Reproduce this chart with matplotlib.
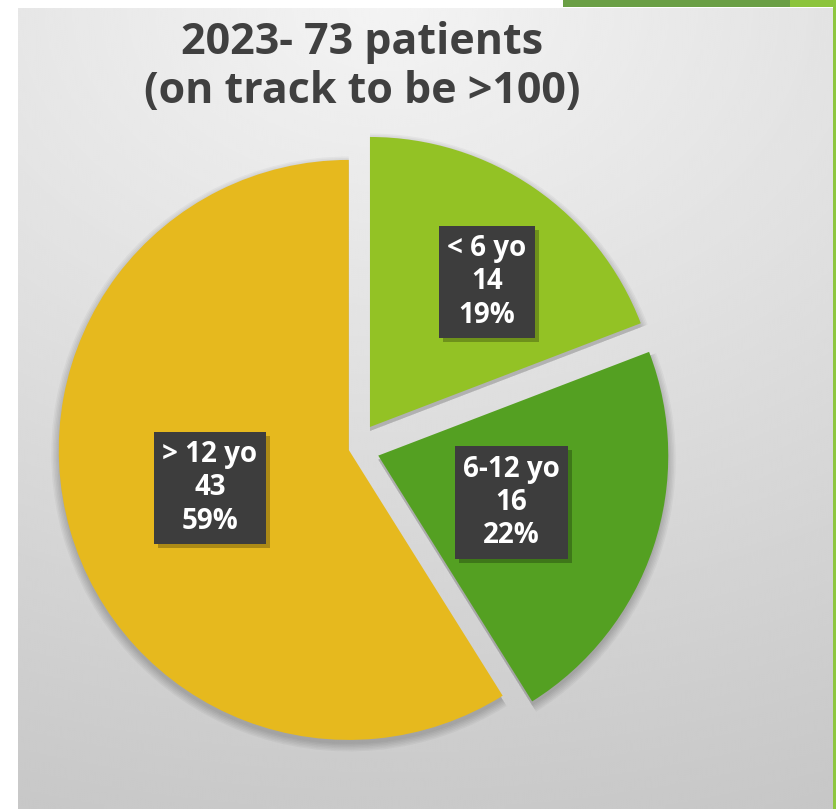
import numpy as np
import matplotlib.pyplot as plt
from matplotlib.patches import Rectangle

# dados
labels = ['< 6 yo', '6-12 yo', '> 12 yo']
counts = [14, 16, 43]
colors = ['#93c225', '#54a022', '#e6b91e']
title = '2023- 73 patients\n(on track to be >100)'

W, H = 836, 809
fig = plt.figure(figsize=(W / 100, H / 100), dpi=100)
ax = fig.add_axes([0, 0, 1, 1])

# fundo cinza em degrade
yy, xx = np.mgrid[0:1:400j, 0:1:400j]
dist = np.sqrt((0.7 * (xx - 0.45)) ** 2 + yy ** 2)
bg = 0.955 - 0.165 * dist
ax.imshow(bg, cmap='gray', vmin=0, vmax=1, extent=(18, 833, 0, H - 8),
          origin='upper', aspect='auto', zorder=0, interpolation='bicubic')

# detalhes verdes do slide
ax.add_patch(Rectangle((563, H - 7), 227, 7, color='#6a9f45', lw=0, zorder=1))
ax.add_patch(Rectangle((790, H - 7), 46, 7, color='#8cc43c', lw=0, zorder=1))
ax.add_patch(Rectangle((833, 0), 3, H, color='#8dc63f', lw=0, zorder=1))

center = (355.5, H - 448)
radius = 290
explode = [25.5, 24, 7]

# sombra suave
for k in range(6):
    sw, _ = ax.pie(counts, explode=explode, startangle=90, counterclock=False,
                   center=(center[0], center[1] - 4), radius=radius + 1.5 * k,
                   colors=['black'] * 3, frame=True)
    for w in sw:
        w.set_alpha(0.035)
        w.set_zorder(2)

wedges, _ = ax.pie(counts, explode=explode, startangle=90, counterclock=False,
                   center=center, radius=radius, colors=colors, frame=True)
for w in wedges:
    w.set_zorder(3)

ax.set_xlim(0, W)
ax.set_ylim(0, H)
ax.set_aspect('auto')
ax.axis('off')

# rotulos
total = sum(counts)
offsets = [(0.403, 0.50), (0.459, -0.162), (-0.479, -0.131)]
boxes = []
for w, lab, c, off in zip(wedges, labels, counts, offsets):
    cx, cy = w.center
    x = cx + off[0] * w.r
    y = cy + off[1] * w.r
    txt = f'{lab}\n{c}\n{round(100 * c / total)}%'
    t = ax.text(x, y, txt, ha='center', va='center', fontsize=20,
                family='Open Sans', weight='bold', color='white', zorder=5,
                linespacing=1.2,
                bbox=dict(boxstyle='square,pad=0.3', fc='#3d3d3d', ec='none'))
    boxes.append(t)

ax.text(362, H - 67, title, ha='center', va='center', fontsize=31,
        family='Open Sans', weight='bold', color='#404040', linespacing=1.2,
        zorder=5)

# sombra das caixas
fig.canvas.draw()
inv = ax.transData.inverted()
for t in boxes:
    bb = t.get_bbox_patch().get_window_extent()
    (x0, y0), (x1, y1) = inv.transform([[bb.x0, bb.y0], [bb.x1, bb.y1]])
    ax.add_patch(Rectangle((x0 + 4, y0 - 4), x1 - x0, y1 - y0, fc='black',
                           alpha=0.25, lw=0, zorder=4))

fig.savefig('out.png', dpi=100, facecolor='white')
